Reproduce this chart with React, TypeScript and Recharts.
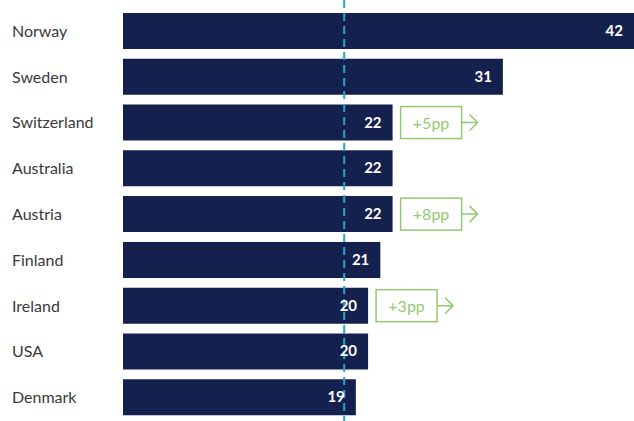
import React from 'react';
import { BarChart, Bar, XAxis, YAxis, ReferenceLine, LabelList } from 'recharts';

const countries = ['Norway', 'Sweden', 'Switzerland', 'Australia', 'Austria', 'Finland', 'Ireland', 'USA', 'Denmark'];
const values = [42, 31, 22, 22, 22, 21, 20, 20, 19];
const gains: (number | null)[] = [null, null, 5, null, 8, null, 3, null, null];
const average = 18.05;

const NAVY = '#14204e';
const TEAL = '#22a7c9';
const GREEN = '#94c972';

const data = countries.map((name, i) => ({ name, value: values[i], gain: gains[i] }));

const CountryTick = (props: any) => {
  const { y, payload } = props;
  return (
    <text x={12} y={y} dy={6} textAnchor="start" fill="#3a3a3a" fontSize={16} fontFamily="Lato, sans-serif">
      {payload.value}
    </text>
  );
};

const ValueLabel = (props: any) => {
  const { x, y, width, height, value } = props;
  const end = Math.min(x + width, 634);
  return (
    <text x={end - 11} y={y + height / 2} dy={5} textAnchor="end" fill="#fff" fontSize={15} fontWeight={700} fontFamily="Lato, sans-serif">
      {value}
    </text>
  );
};

const GainLabel = (props: any) => {
  const { x, y, width, height, value } = props;
  if (value == null) return null;
  const bx = x + width + 8;
  const by = y + 2;
  const bw = 61;
  const bh = height - 4;
  const cy = by + bh / 2;
  return (
    <g>
      <rect x={bx} y={by} width={bw} height={bh} fill="#fff" stroke={GREEN} strokeWidth={1.5} />
      <text x={bx + bw / 2} y={cy} dy={6} textAnchor="middle" fill={GREEN} fontSize={16} fontFamily="Lato, sans-serif">
        {`+${value}pp`}
      </text>
      <path d={`M${bx + bw} ${cy} H${bx + bw + 15} M${bx + bw + 8} ${cy - 8} L${bx + bw + 16} ${cy} L${bx + bw + 8} ${cy + 8}`} fill="none" stroke={GREEN} strokeWidth={1.5} />
    </g>
  );
};

const DashedLine = (props: any) => {
  const { x1, x2 } = props;
  return <line x1={x1} x2={x2} y1={0} y2={421} stroke={TEAL} strokeWidth={2} strokeDasharray="8 5" />;
};

export default function App() {
  return (
    <div style={{ position: 'absolute', left: 0, top: 0, background: '#fff' }}>
      <BarChart width={634} height={421} data={data} layout="vertical" margin={{ top: 8, right: 0, bottom: 1, left: 0 }}>
        <XAxis type="number" domain={[0, 41.7]} allowDataOverflow hide />
        <YAxis type="category" dataKey="name" width={123} axisLine={false} tickLine={false} tick={<CountryTick />} />
        <Bar dataKey="value" fill={NAVY} barSize={36} isAnimationActive={false}>
          <LabelList dataKey="value" content={<ValueLabel />} />
          <LabelList dataKey="gain" content={<GainLabel />} />
        </Bar>
        <ReferenceLine x={average} shape={<DashedLine />} />
      </BarChart>
    </div>
  );
}
